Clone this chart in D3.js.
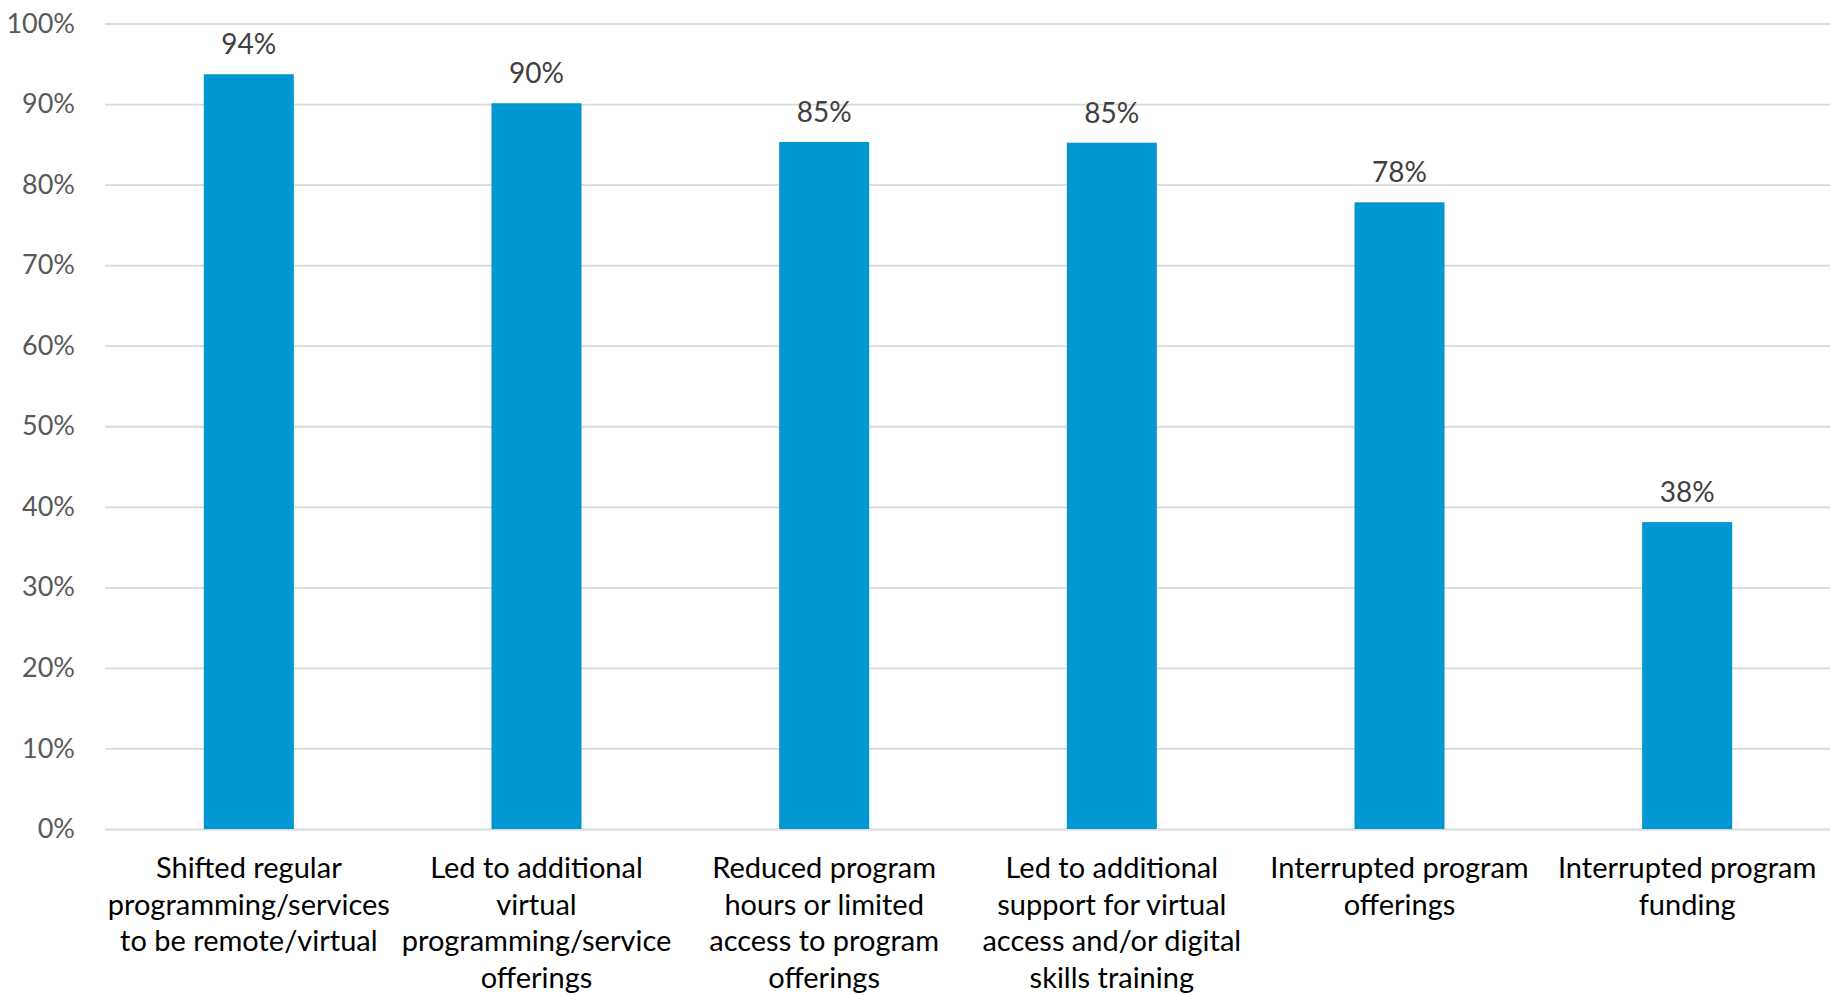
<!DOCTYPE html>
<html>
<head>
<meta charset="utf-8">
<script src="https://cdn.jsdelivr.net/npm/d3@7"></script>
<style>
  html, body { margin: 0; padding: 0; background: #ffffff; }
  svg { display: block; }
  text { font-family: Lato, "Open Sans", sans-serif; }
</style>
</head>
<body>
<svg id="chart" width="1830" height="995"></svg>
<script>
// Survey results: how COVID-19 affected programs (share of respondents)
const categories = [
  "Shifted regular programming/services to be remote/virtual",
  "Led to additional virtual programming/service offerings",
  "Reduced program hours or limited access to program offerings",
  "Led to additional support for virtual access and/or digital skills training",
  "Interrupted program offerings",
  "Interrupted program funding"
];
const categoryLines = [
  ["Shifted regular", "programming/services", "to be remote/virtual"],
  ["Led to additional", "virtual", "programming/service", "offerings"],
  ["Reduced program", "hours or limited", "access to program", "offerings"],
  ["Led to additional", "support for virtual", "access and/or digital", "skills training"],
  ["Interrupted program", "offerings"],
  ["Interrupted program", "funding"]
];
const values = [0.937, 0.901, 0.853, 0.852, 0.778, 0.381];
const yTicks = [0, 0.1, 0.2, 0.3, 0.4, 0.5, 0.6, 0.7, 0.8, 0.9, 1.0];

const svg = d3.select("#chart");
const W = 1830, H = 995;
const margin = { left: 105, right: -1, top: 23.5, bottom: 166 };

const x = d3.scaleBand()
  .domain(categories)
  .range([margin.left, W - margin.right])
  .paddingInner(0.687)
  .paddingOuter(0.3435);

const y = d3.scaleLinear()
  .domain([0, 1])
  .range([H - margin.bottom, margin.top]);

const pct = d3.format(".0%");

// horizontal gridlines with the percentage labels
const yAxis = d3.axisLeft(y)
  .tickValues(yTicks)
  .tickFormat(pct)
  .tickSize(-(W - margin.left))
  .tickPadding(30);

const gy = svg.append("g")
  .attr("transform", `translate(${margin.left},0)`)
  .call(yAxis);
gy.select(".domain").remove();
gy.selectAll(".tick line")
  .attr("stroke", "#d9d9d9")
  .attr("stroke-width", 1.8);
gy.selectAll(".tick text")
  .attr("fill", "#595959")
  .style("font-size", "27px");

// bars
svg.append("g")
  .selectAll("rect")
  .data(values)
  .join("rect")
  .attr("x", (d, i) => x(categories[i]))
  .attr("y", d => y(d))
  .attr("width", x.bandwidth())
  .attr("height", d => y(0) - y(d))
  .attr("fill", "#0097d2");

// value labels above bars
svg.append("g")
  .selectAll("text")
  .data(values)
  .join("text")
  .attr("x", (d, i) => x(categories[i]) + x.bandwidth() / 2)
  .attr("y", d => y(d) - 20)
  .attr("text-anchor", "middle")
  .attr("fill", "#404040")
  .style("font-size", "28px")
  .text(d => pct(d));

// category axis (labels drawn as wrapped lines below)
const xAxis = d3.axisBottom(x).tickSize(0).tickFormat(() => "");
const gx = svg.append("g")
  .attr("transform", `translate(0,${y(0)})`)
  .call(xAxis);
gx.select(".domain").remove();

const catG = svg.append("g");
categories.forEach((c, i) => {
  const cx = x(c) + x.bandwidth() / 2;
  const t = catG.append("text")
    .attr("x", cx)
    .attr("y", 878)
    .attr("text-anchor", "middle")
    .attr("fill", "#000000")
    .style("font-size", "29px");
  categoryLines[i].forEach((line, j) => {
    t.append("tspan")
      .attr("x", cx)
      .attr("dy", j === 0 ? 0 : 36.7)
      .text(line);
  });
});
</script>
</body>
</html>
